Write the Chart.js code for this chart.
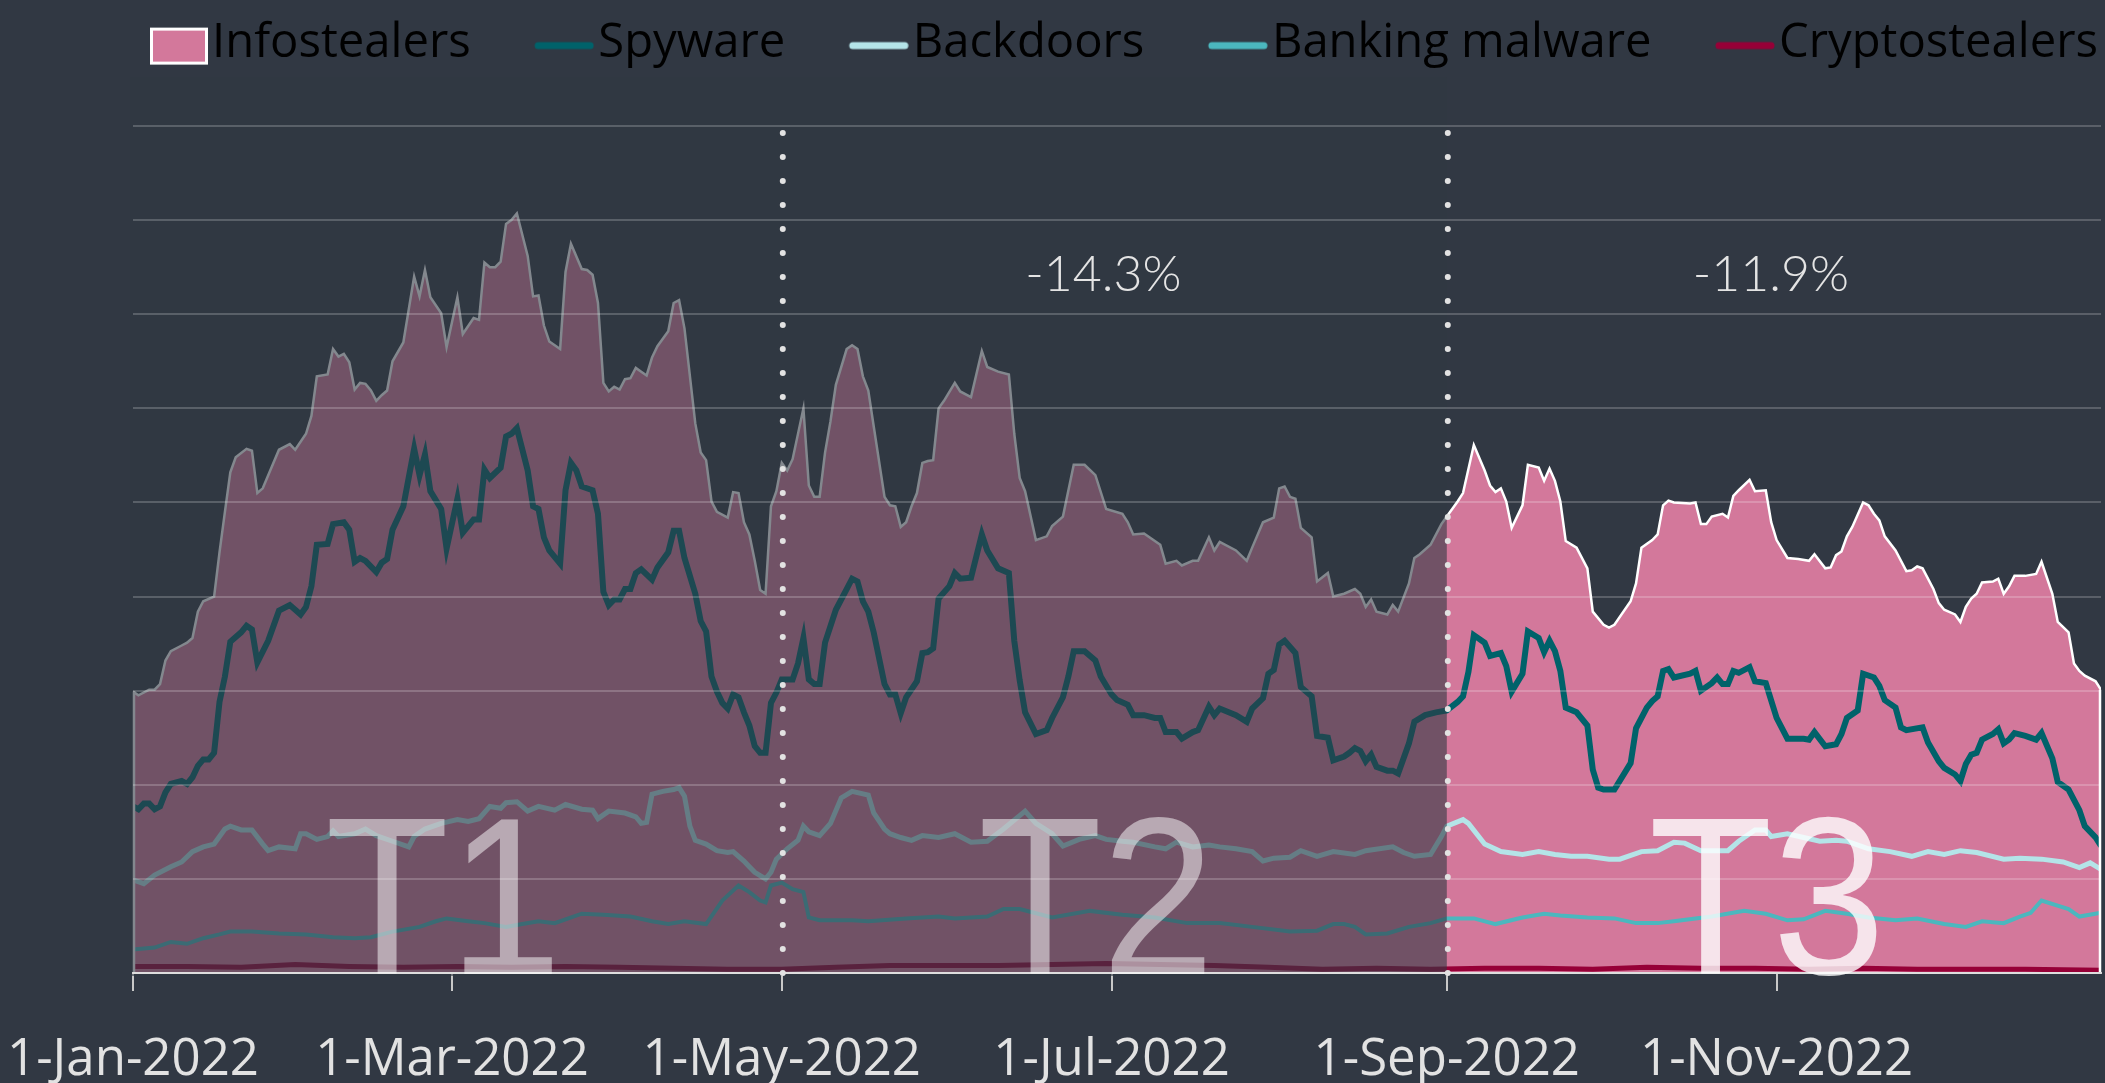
<!DOCTYPE html>
<html>
<head>
<meta charset="utf-8">
<title>Malware families 2022</title>
<script src="https://cdn.jsdelivr.net/npm/chart.js@4.4.0/dist/chart.umd.min.js"></script>
<style>
  html, body { margin: 0; padding: 0; background: #313843; }
  #wrap { width: 2105px; height: 1083px; }
</style>
</head>
<body>
<div id="wrap"><canvas id="malwareChart"></canvas></div>
<script>
// day of year (0 = 1-Jan-2022) for the axis labels
var tickDays = [0, 59, 120, 181, 243, 304];
var tickLabels = ['1-Jan-2022', '1-Mar-2022', '1-May-2022', '1-Jul-2022', '1-Sep-2022', '1-Nov-2022'];
var gridValues = [0, 1, 2, 3, 4, 5, 6, 7, 8, 9];

// periods: T1 = Jan-Apr, T2 = May-Aug, T3 = Sep-Dec
var periodBounds = [0, 120, 243, 364];
var periodNames = ['T1', 'T2', 'T3'];
var periodChange = ['', '-14.3%', '-11.9%'];

var seriesNames = ['Infostealers', 'Spyware', 'Backdoors', 'Banking malware', 'Cryptostealers'];

var infostealerDays = [0,1,3,4,5,6,7,9,10,11,12,13,15,16,17,18,19,21,22,23,24,27,29,30,32,33,34,36,37,38,39,40,41,42,43,44,45,46,47,48,50,52,53,54,55,57,58,60,61,63,64,65,66,67,68,69,70,71,73,74,75,76,77,79,80,81,83,84,85,86,87,88,89,90,91,92,93,94,95,96,97,99,100,101,102,104,105,106,107,108,110,111,112,113,114,115,116,117,118,119,120,121,122,124,125,126,127,128,129,130,132,133,134,135,136,137,139,140,141,142,143,144,145,146,147,148,149,150,152,153,155,157,158,160,162,163,164,165,167,169,170,172,174,176,178,180,183,184,185,187,190,191,193,194,196,197,199,200,201,204,206,207,209,211,212,213,214,215,216,218,219,221,222,224,226,227,228,229,230,232,233,234,236,237,238,240,242,243,245,246,248,250,251,252,253,254,255,257,258,260,261,262,263,264,265,267,269,270,272,273,274,277,278,279,281,282,283,284,285,288,289,290,291,292,294,295,296,297,299,300,302,303,304,306,308,310,311,313,314,315,316,317,318,320,321,322,323,324,326,328,329,330,331,333,334,335,337,338,339,340,341,342,344,345,346,347,348,350,352,353,355,356,358,359,360,361,363,364];
var infostealerValues = [2.99,2.95,3.01,3.01,3.07,3.32,3.42,3.48,3.51,3.56,3.84,3.95,4.00,4.47,4.90,5.32,5.48,5.57,5.55,5.10,5.15,5.56,5.62,5.56,5.73,5.92,6.34,6.36,6.63,6.55,6.58,6.49,6.20,6.27,6.26,6.19,6.08,6.14,6.19,6.50,6.70,7.40,7.19,7.47,7.18,7.01,6.65,7.18,6.79,6.96,6.94,7.55,7.50,7.50,7.56,7.96,8.00,8.07,7.62,7.19,7.20,6.88,6.71,6.63,7.45,7.75,7.48,7.47,7.42,7.12,6.27,6.18,6.23,6.20,6.31,6.32,6.43,6.39,6.35,6.54,6.66,6.82,7.12,7.15,6.85,5.84,5.53,5.45,5.01,4.90,4.84,5.11,5.10,4.79,4.66,4.38,4.07,4.03,4.96,5.12,5.42,5.34,5.46,6.00,5.18,5.06,5.06,5.53,5.86,6.25,6.63,6.67,6.63,6.34,6.19,5.81,5.06,4.97,4.96,4.74,4.79,4.96,5.10,5.42,5.44,5.45,6.00,6.08,6.27,6.18,6.12,6.61,6.44,6.39,6.36,5.73,5.26,5.12,4.60,4.64,4.75,4.85,5.40,5.40,5.29,4.93,4.88,4.79,4.66,4.67,4.55,4.35,4.38,4.33,4.38,4.38,4.63,4.49,4.58,4.49,4.38,4.52,4.79,4.84,5.15,5.17,5.06,5.04,4.73,4.63,4.16,4.25,4.00,4.03,4.08,4.03,3.89,3.97,3.84,3.81,3.91,3.84,4.14,4.41,4.45,4.55,4.77,4.85,5.01,5.10,5.61,5.34,5.18,5.11,5.15,5.01,4.73,4.97,5.40,5.37,5.23,5.36,5.23,5.01,4.59,4.52,4.30,3.84,3.70,3.67,3.70,3.95,4.14,4.52,4.60,4.66,4.97,5.02,5.00,4.99,5.00,4.77,4.77,4.85,4.88,4.84,5.07,5.13,5.24,5.12,5.13,4.79,4.60,4.41,4.40,4.38,4.45,4.30,4.31,4.44,4.48,4.64,4.74,5.00,4.97,4.88,4.81,4.64,4.49,4.27,4.28,4.32,4.30,4.08,3.93,3.86,3.81,3.73,3.89,3.98,4.03,4.15,4.16,4.19,4.03,4.11,4.22,4.22,4.24,4.37,4.03,3.73,3.62,3.29,3.21,3.16,3.10,3.01];

var spywareDays = [0,1,2,3,4,5,6,7,9,10,11,12,13,14,15,16,17,18,20,21,22,23,25,27,29,30,31,32,33,34,36,37,39,40,41,42,43,45,46,47,48,50,52,53,54,55,57,58,60,61,63,64,65,66,68,69,70,71,73,74,75,76,77,79,80,81,82,83,85,86,87,88,89,90,91,92,93,94,96,97,99,100,101,102,104,105,106,107,108,109,110,111,112,113,114,115,116,117,118,119,120,122,123,124,125,126,127,128,130,132,133,134,135,136,137,139,140,141,142,143,145,146,147,148,149,151,152,153,155,157,158,160,162,163,164,165,167,169,170,172,173,174,176,178,179,181,182,184,185,187,189,190,191,193,194,196,197,199,200,201,204,206,207,209,210,211,212,213,215,216,218,219,221,222,224,225,226,227,228,229,230,232,233,234,236,237,239,241,243,245,246,247,248,250,251,253,254,255,257,258,260,261,262,263,264,265,267,269,270,271,272,274,277,278,280,281,282,283,284,285,288,289,290,292,293,294,295,296,297,299,300,302,304,306,307,309,310,311,313,315,316,317,319,320,322,323,324,326,327,328,331,332,334,335,337,338,339,340,341,342,344,345,346,347,348,350,352,353,355,356,358,360,361,363,364];
var spywareValues = [1.77,1.74,1.80,1.80,1.74,1.77,1.92,2.01,2.04,2.01,2.08,2.20,2.27,2.27,2.34,2.88,3.15,3.52,3.62,3.69,3.65,3.30,3.53,3.85,3.91,3.86,3.81,3.89,4.11,4.55,4.56,4.77,4.79,4.71,4.37,4.41,4.38,4.26,4.36,4.40,4.71,4.96,5.57,5.29,5.51,5.12,4.93,4.51,5.04,4.68,4.82,4.82,5.35,5.26,5.37,5.70,5.73,5.79,5.34,4.96,4.93,4.63,4.49,4.35,5.13,5.42,5.34,5.17,5.13,4.88,4.05,3.91,3.97,3.97,4.08,4.08,4.25,4.29,4.18,4.31,4.47,4.70,4.70,4.41,4.03,3.74,3.63,3.15,2.99,2.87,2.81,2.96,2.93,2.77,2.63,2.41,2.34,2.34,2.87,2.98,3.12,3.12,3.29,3.56,3.12,3.07,3.07,3.51,3.86,4.08,4.19,4.16,3.95,3.84,3.62,3.07,2.96,2.96,2.76,2.93,3.10,3.40,3.41,3.45,3.98,4.11,4.25,4.19,4.20,4.66,4.49,4.30,4.25,3.53,3.11,2.77,2.54,2.58,2.71,2.93,3.15,3.42,3.42,3.32,3.15,2.96,2.90,2.85,2.74,2.74,2.71,2.71,2.56,2.56,2.49,2.56,2.58,2.83,2.74,2.81,2.74,2.67,2.81,2.92,3.18,3.22,3.49,3.53,3.40,3.04,2.94,2.52,2.50,2.26,2.30,2.34,2.39,2.36,2.25,2.32,2.19,2.15,2.15,2.12,2.44,2.67,2.74,2.77,2.79,2.88,2.94,3.20,3.59,3.51,3.37,3.40,3.26,2.99,3.18,3.63,3.56,3.41,3.53,3.42,3.21,2.82,2.77,2.63,2.16,1.97,1.95,1.95,2.23,2.60,2.82,2.89,2.94,3.21,3.23,3.14,3.18,3.21,3.00,3.08,3.14,3.07,3.07,3.21,3.19,3.25,3.10,3.08,2.71,2.49,2.49,2.49,2.48,2.56,2.41,2.43,2.54,2.71,2.79,3.18,3.14,3.05,2.90,2.82,2.61,2.58,2.61,2.45,2.25,2.18,2.11,2.04,2.22,2.32,2.34,2.48,2.54,2.59,2.44,2.48,2.55,2.52,2.48,2.55,2.28,2.03,1.95,1.73,1.56,1.44,1.35];

var backdoorDays = [0,2,4,7,9,11,13,15,17,18,20,22,24,25,27,30,31,32,34,36,37,38,41,43,45,48,51,52,54,57,60,62,64,66,68,69,71,73,75,78,80,83,85,86,88,91,93,94,95,96,98,100,101,102,103,104,106,108,110,111,113,114,115,117,118,119,121,123,124,125,127,129,131,133,136,137,139,140,142,144,146,149,152,155,158,161,165,167,170,172,175,178,180,183,185,189,191,193,196,199,201,204,207,209,211,214,216,219,222,226,228,233,235,237,240,242,243,246,247,250,253,257,260,263,266,269,273,275,279,282,285,287,290,293,295,297,300,302,303,306,309,312,315,317,321,325,329,332,335,338,341,346,349,353,357,360,362,364];
var backdoorValues = [0.99,0.95,1.04,1.13,1.18,1.29,1.34,1.37,1.53,1.56,1.52,1.52,1.37,1.30,1.34,1.32,1.48,1.48,1.42,1.45,1.51,1.45,1.48,1.53,1.46,1.40,1.34,1.45,1.53,1.59,1.63,1.61,1.64,1.77,1.75,1.81,1.82,1.72,1.77,1.73,1.79,1.74,1.73,1.64,1.72,1.70,1.66,1.59,1.60,1.90,1.93,1.95,1.97,1.88,1.56,1.41,1.37,1.30,1.28,1.29,1.19,1.13,1.07,1.00,1.07,1.21,1.32,1.41,1.56,1.50,1.46,1.59,1.86,1.93,1.89,1.70,1.53,1.48,1.44,1.41,1.46,1.44,1.48,1.39,1.40,1.53,1.72,1.59,1.48,1.35,1.42,1.46,1.42,1.40,1.39,1.34,1.32,1.39,1.34,1.36,1.34,1.32,1.29,1.19,1.22,1.23,1.30,1.24,1.29,1.26,1.30,1.34,1.28,1.24,1.26,1.45,1.56,1.63,1.59,1.37,1.29,1.26,1.29,1.26,1.24,1.24,1.21,1.21,1.29,1.30,1.39,1.38,1.30,1.30,1.30,1.40,1.52,1.52,1.45,1.48,1.44,1.40,1.41,1.40,1.32,1.29,1.24,1.29,1.26,1.30,1.28,1.21,1.22,1.21,1.18,1.12,1.17,1.10];

var bankingDays = [0,4,7,10,13,16,18,22,27,32,37,41,44,48,53,56,58,62,65,69,72,75,78,83,87,92,96,99,102,106,109,112,114,116,117,118,120,122,124,125,127,133,136,143,149,152,158,161,164,170,177,183,189,195,201,207,214,219,222,224,226,228,232,236,240,243,248,252,257,261,264,269,274,278,282,285,289,292,298,302,306,309,313,317,321,326,330,335,339,342,346,349,351,353,358,360,364];
var bankingValues = [0.25,0.27,0.33,0.31,0.37,0.41,0.44,0.44,0.42,0.41,0.38,0.37,0.38,0.44,0.49,0.55,0.58,0.55,0.53,0.49,0.52,0.55,0.53,0.63,0.62,0.60,0.55,0.52,0.55,0.52,0.77,0.93,0.86,0.77,0.75,0.93,0.96,0.89,0.86,0.59,0.56,0.56,0.55,0.58,0.60,0.58,0.60,0.68,0.68,0.59,0.66,0.62,0.59,0.53,0.53,0.49,0.44,0.45,0.52,0.52,0.49,0.41,0.42,0.49,0.53,0.58,0.58,0.52,0.59,0.63,0.61,0.59,0.58,0.53,0.53,0.55,0.58,0.60,0.66,0.63,0.56,0.57,0.66,0.63,0.59,0.56,0.58,0.52,0.49,0.55,0.53,0.60,0.64,0.77,0.68,0.60,0.64];

var cryptoDays = [0,10,20,30,40,50,60,70,80,90,100,110,120,130,140,150,160,170,180,190,200,210,220,230,240,250,260,270,280,290,300,310,320,330,340,350,364];
var cryptoValues = [0.07,0.07,0.06,0.09,0.07,0.06,0.07,0.06,0.07,0.06,0.05,0.04,0.04,0.06,0.08,0.08,0.08,0.09,0.10,0.09,0.08,0.06,0.04,0.05,0.04,0.05,0.05,0.04,0.06,0.05,0.05,0.04,0.05,0.04,0.04,0.04,0.03];

var colors = ['#d3789b', '#00626a', '#b4e4e8', '#4bb7be', '#960037'];

function toPoints(days, values) {
    return days.map(function (d, i) { return { x: d, y: values[i] }; });
}

// legend swatch drawn into a small canvas so it sits right next to the label text
function makeSwatch(color, isArea) {
    var c = document.createElement('canvas');
    c.width = 140;
    c.height = 60;
    var g = c.getContext('2d');
    if (isArea) {
        g.fillStyle = color;
        g.fillRect(83.5, 15.5, 55, 34);
        g.strokeStyle = '#ffffff';
        g.lineWidth = 3;
        g.strokeRect(83.5, 15.5, 55, 34);
    } else {
        g.strokeStyle = color;
        g.lineWidth = 7;
        g.lineCap = 'round';
        g.beginPath();
        g.moveTo(84, 32);
        g.lineTo(136, 32);
        g.stroke();
    }
    return c;
}
var swatches = colors.map(function (c, i) { return makeSwatch(c, i === 0); });

// small nudges so the big labels sit where they do in the original
var nameShift = [-14, -18, -7];
var changeShift = [0, -11, -3];

var periodPlugin = {
    id: 'periods',
    afterDatasetsDraw: function (chart) {
        var ctx = chart.ctx, area = chart.chartArea;
        var xs = chart.scales.x, ys = chart.scales.y;
        var y0 = ys.getPixelForValue(0);
        var last = infostealerDays.length - 1;
        ctx.save();
        // close the area on both sides
        ctx.strokeStyle = '#ffffff';
        ctx.lineWidth = 2.5;
        ctx.beginPath();
        ctx.moveTo(xs.getPixelForValue(infostealerDays[0]) + 1, y0);
        ctx.lineTo(xs.getPixelForValue(infostealerDays[0]) + 1, ys.getPixelForValue(infostealerValues[0]));
        ctx.moveTo(xs.getPixelForValue(infostealerDays[last]) - 1, y0);
        ctx.lineTo(xs.getPixelForValue(infostealerDays[last]) - 1, ys.getPixelForValue(infostealerValues[last]));
        ctx.stroke();
        // dim T1 and T2
        var xSplit = xs.getPixelForValue(periodBounds[2]);
        ctx.fillStyle = 'rgba(49, 56, 67, 0.6)';
        ctx.fillRect(area.left - 3, area.top, xSplit - area.left + 3, area.bottom - area.top + 3);
        ctx.restore();
    },
    afterDraw: function (chart) {
        var ctx = chart.ctx;
        var xs = chart.scales.x, ys = chart.scales.y;
        var y0 = ys.getPixelForValue(0);
        var yTop = ys.getPixelForValue(gridValues[gridValues.length - 1]);
        ctx.save();
        // dotted separators
        ctx.strokeStyle = '#e2e2e2';
        ctx.lineWidth = 6;
        ctx.lineCap = 'round';
        ctx.setLineDash([0, 24]);
        for (var i = 1; i < periodBounds.length - 1; i++) {
            var px = xs.getPixelForValue(periodBounds[i]) + 1;
            ctx.beginPath();
            ctx.moveTo(px, y0);
            ctx.lineTo(px, yTop);
            ctx.stroke();
        }
        ctx.setLineDash([]);
        // big period names and change labels
        ctx.textAlign = 'center';
        ctx.textBaseline = 'alphabetic';
        for (var j = 0; j < periodNames.length; j++) {
            var mid = xs.getPixelForValue((periodBounds[j] + periodBounds[j + 1]) / 2);
            ctx.save();
            ctx.translate(mid + nameShift[j], y0 + 1);
            ctx.scale(0.9, 1);
            ctx.font = '225px "Liberation Sans"';
            ctx.fillStyle = j === 2 ? 'rgba(255,255,255,0.8)' : 'rgba(255,255,255,0.5)';
            ctx.fillText(periodNames[j], 0, 0);
            ctx.restore();
            if (periodChange[j]) {
                ctx.font = '300 50px Lato';
                ctx.fillStyle = '#e4e4e4';
                ctx.fillText(periodChange[j], mid + changeShift[j], ys.getPixelForValue(7.25));
            }
        }
        ctx.restore();
    }
};

var ctx = document.getElementById('malwareChart').getContext('2d');
window.malwareChart = new Chart(ctx, {
    type: 'line',
    data: {
        datasets: [{
            label: seriesNames[0],
            data: toPoints(infostealerDays, infostealerValues),
            borderColor: '#ffffff',
            backgroundColor: colors[0],
            borderWidth: 2.5,
            fill: 'origin',
            order: 5
        }, {
            label: seriesNames[1],
            data: toPoints(spywareDays, spywareValues),
            borderColor: colors[1],
            borderWidth: 6,
            fill: false,
            order: 1
        }, {
            label: seriesNames[2],
            data: toPoints(backdoorDays, backdoorValues),
            borderColor: colors[2],
            borderWidth: 5,
            fill: false,
            order: 2
        }, {
            label: seriesNames[3],
            data: toPoints(bankingDays, bankingValues),
            borderColor: colors[3],
            borderWidth: 4,
            fill: false,
            order: 3
        }, {
            label: seriesNames[4],
            data: toPoints(cryptoDays, cryptoValues),
            borderColor: colors[4],
            borderWidth: 5,
            fill: false,
            order: 4
        }]
    },
    options: {
        responsive: true,
        maintainAspectRatio: false,
        animation: false,
        events: [],
        elements: {
            point: { radius: 0, hoverRadius: 0 },
            line: { tension: 0 }
        },
        layout: { padding: { top: 17, left: 0, right: 4, bottom: 0 } },
        scales: {
            x: {
                type: 'linear',
                min: 0,
                max: 364,
                afterBuildTicks: function (axis) {
                    axis.ticks = tickDays.map(function (d) { return { value: d }; });
                },
                afterFit: function (axis) {
                    axis.height = 110;
                    axis.paddingLeft = 0;
                    axis.paddingRight = 0;
                },
                ticks: {
                    autoSkip: false,
                    maxRotation: 0,
                    padding: 39,
                    color: '#e2e2e2',
                    font: { family: '"Open Sans"', size: 51, weight: 400 },
                    callback: function (value, index) { return tickLabels[index]; }
                },
                grid: {
                    drawOnChartArea: false,
                    tickLength: 18,
                    color: '#c8c8c8',
                    lineWidth: 2
                },
                border: { display: true, color: '#d6d6d6', width: 2, z: 1 }
            },
            y: {
                min: 0,
                max: 9.519,
                afterBuildTicks: function (axis) {
                    axis.ticks = gridValues.map(function (v) { return { value: v }; });
                },
                afterFit: function (axis) { axis.width = 133; },
                ticks: { display: false },
                grid: {
                    drawTicks: false,
                    color: 'rgba(255,255,255,0.2)',
                    lineWidth: 2,
                    z: 1
                },
                border: { display: false }
            }
        },
        plugins: {
            tooltip: { enabled: false },
            legend: {
                position: 'top',
                align: 'end',
                labels: {
                    usePointStyle: true,
                    pointStyleWidth: 101,
                    boxHeight: 37,
                    padding: 3,
                    color: '#e3e3e3',
                    font: { family: '"Open Sans"', size: 47.2, weight: 400 },
                    generateLabels: function (chart) {
                        return chart.data.datasets.map(function (ds, i) {
                            return {
                                text: ds.label,
                                pointStyle: swatches[i],
                                fillStyle: colors[i],
                                strokeStyle: colors[i],
                                lineWidth: 0,
                                hidden: false,
                                datasetIndex: i
                            };
                        });
                    }
                }
            }
        }
    },
    plugins: [periodPlugin]
});
</script>
</body>
</html>
